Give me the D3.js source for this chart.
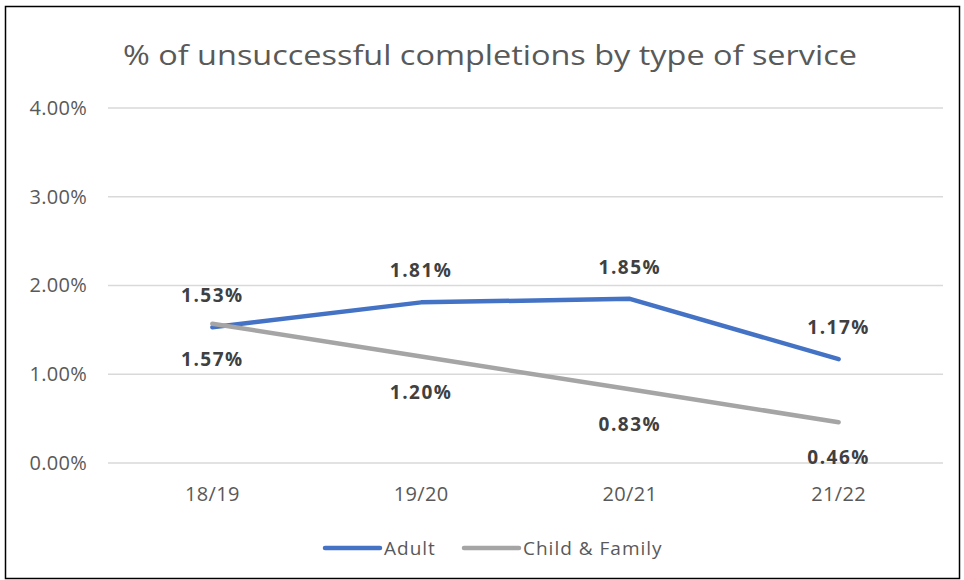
<!DOCTYPE html>
<html><head><meta charset="utf-8">
<script src="https://cdn.jsdelivr.net/npm/d3@7"></script>
<style>body{margin:0;background:#fff}svg{display:block}</style>
</head><body>
<svg id="c" width="964" height="580"></svg>
<script>
const categories = ["18/19","19/20","20/21","21/22"];
const adult = [1.53, 1.81, 1.85, 1.17];
const childFamily = [1.57, 1.20, 0.83, 0.46];
const yTicks = [0, 1, 2, 3, 4];
const seriesNames = ["Adult", "Child & Family"];
const colors = ["#4472C4", "#A5A5A5"];

const svg = d3.select("#c");
const font = "'Open Sans', 'Liberation Sans', sans-serif";
svg.append("rect").attr("x",5.5).attr("y",6.5).attr("width",954).attr("height",572)
  .attr("fill","#fff").attr("stroke","#000").attr("stroke-width",1.5);

svg.append("text").attr("x",490).attr("y",65).attr("text-anchor","middle")
  .attr("font-family",font).attr("font-size",28).attr("fill","#595959")
  .attr("textLength",734).attr("lengthAdjust","spacingAndGlyphs")
  .text("% of unsuccessful  completions by type of service");

const x = d3.scaleBand().domain(categories).range([108,943]);
const y = d3.scaleLinear().domain([0,4]).range([463,108]);

const grid = svg.append("g");
yTicks.forEach(t=>{
  grid.append("line").attr("x1",108).attr("x2",943).attr("y1",y(t)).attr("y2",y(t))
    .attr("stroke","#D9D9D9").attr("stroke-width",1.5);
});
const yAxis = d3.axisLeft(y).tickValues(yTicks).tickSize(0).tickPadding(0)
  .tickFormat(d=>d3.format(".2f")(d)+"%");
const ya = svg.append("g").attr("transform","translate(87,0)").call(yAxis);
ya.select(".domain").remove();
ya.attr("font-family",font).attr("font-size",20);
ya.selectAll("text").attr("fill","#595959").attr("letter-spacing",0.3);

const xAxis = d3.axisBottom(x).tickSize(0).tickPadding(0);
const xa = svg.append("g").attr("transform","translate(0,487)").call(xAxis);
xa.select(".domain").remove();
xa.attr("font-family",font).attr("font-size",20);
xa.selectAll("text").attr("fill","#595959").attr("letter-spacing",0.3);

const cx = d => x(d) + x.bandwidth()/2;
const line = d3.line().x((d,i)=>cx(categories[i])).y(d=>y(d));
const series = [adult, childFamily];
series.forEach((s,k)=>{
  svg.append("path").datum(s).attr("d",line).attr("fill","none")
    .attr("stroke",colors[k]).attr("stroke-width",4.5)
    .attr("stroke-linecap","round").attr("stroke-linejoin","round");
});
// labels
const lab = svg.append("g").attr("font-family",font).attr("font-size",19)
  .attr("font-weight","bold").attr("fill","#404040").attr("text-anchor","middle")
  .attr("letter-spacing",1.5);
adult.forEach((v,i)=>{
  lab.append("text").attr("x",cx(categories[i])).attr("y",y(v)-25).text(v.toFixed(2)+"%");
});
childFamily.forEach((v,i)=>{
  lab.append("text").attr("x",cx(categories[i])).attr("y",y(v)+42).text(v.toFixed(2)+"%");
});

// legend
const legX = [325, 464];
seriesNames.forEach((n,k)=>{
  svg.append("line").attr("x1",legX[k]).attr("x2",legX[k]+55).attr("y1",548).attr("y2",548)
    .attr("stroke",colors[k]).attr("stroke-width",4.5).attr("stroke-linecap","round");
  svg.append("text").attr("x",legX[k]+59).attr("y",555).attr("font-family",font)
    .attr("font-size",19).attr("letter-spacing",1).attr("fill","#595959").text(n);
});
</script>
</body></html>
